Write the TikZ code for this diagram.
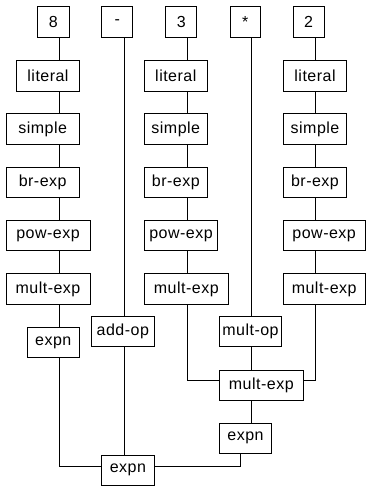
\documentclass[tikz,border=0pt]{standalone}
\usepackage{fontspec}
\setmainfont{Liberation Sans}[LetterSpace=3]
\tikzset{tnode/.style={draw, line width=1pt, minimum height=30.5pt, inner sep=1pt, font=\fontsize{16}{19}\selectfont}}

\begin{document}
\begin{tikzpicture}[x=1pt,y=-1pt,line width=1pt]
\useasboundingbox (0,0) rectangle (366,486);

\node[tnode, minimum width=31.3pt] (n8) at (53.35,22.2) {8};
\node[tnode, minimum width=62.6pt] (lit1) at (48,75.8) {literal};
\node[tnode, minimum width=73.3pt] (simp1) at (42.65,129.2) {simple};
\node[tnode, minimum width=73.3pt] (brx1) at (42.65,182.5) {br-exp};
\node[tnode, minimum width=84pt] (pow1) at (48,235.5) {pow-exp};
\node[tnode, minimum width=84pt] (mul1) at (48,289.2) {mult-exp};
\node[tnode, minimum width=52pt] (expn1) at (53.3,342.5) {expn};

\node[tnode, minimum width=31pt] (nminus) at (117.2,22.2) {-};
\node[tnode, minimum width=62.3pt] (addop) at (122.85,331.7) {add-op};

\node[tnode, minimum width=31pt] (n3) at (181.2,22.2) {3};
\node[tnode, minimum width=63pt] (lit3) at (175.8,75.8) {literal};
\node[tnode, minimum width=63pt] (simp3) at (175.8,129.2) {simple};
\node[tnode, minimum width=63pt] (brx3) at (175.8,182.5) {br-exp};
\node[tnode, minimum width=73.4pt] (pow3) at (181,235.5) {pow-exp};
\node[tnode, minimum width=84pt] (mul3) at (186.3,289.2) {mult-exp};

\node[tnode, minimum width=30.7pt] (nstar) at (245.35,22.2) {*};
\node[tnode, minimum width=62.4pt] (multop) at (250.5,331.7) {mult-op};
\node[tnode, minimum width=84pt] (mulc) at (261.3,385.3) {mult-exp};
\node[tnode, minimum width=52.4pt] (expnr) at (245.5,438.3) {expn};

\node[tnode, minimum width=30.7pt] (n2) at (308.65,22.2) {2};
\node[tnode, minimum width=63.4pt] (lit5) at (315,75.8) {literal};
\node[tnode, minimum width=63.4pt] (simp5) at (315,129.2) {simple};
\node[tnode, minimum width=63.4pt] (brx5) at (315,182.5) {br-exp};
\node[tnode, minimum width=81.7pt] (pow5) at (324.15,235.5) {pow-exp};
\node[tnode, minimum width=81.7pt] (mul5) at (324.15,289.2) {mult-exp};

\node[tnode, minimum width=52.3pt] (root) at (127.85,470.3) {expn};

\coordinate (c1) at (59.3,0);
\coordinate (c2) at (124,0);
\coordinate (c3) at (187.7,0);
\coordinate (c4) at (251,0);
\coordinate (c5) at (315,0);
\coordinate (cr) at (240.7,0);
\coordinate (ymid) at (0,380.7);
\coordinate (ylow) at (0,466);

\draw (n8.south -| c1) -- (lit1.north -| c1);
\draw (lit1.south -| c1) -- (simp1.north -| c1);
\draw (simp1.south -| c1) -- (brx1.north -| c1);
\draw (brx1.south -| c1) -- (pow1.north -| c1);
\draw (pow1.south -| c1) -- (mul1.north -| c1);
\draw (mul1.south -| c1) -- (expn1.north -| c1);
\draw (expn1.south -| c1) |- (root.west |- ylow);

\draw (nminus.south -| c2) -- (addop.north -| c2);
\draw (addop.south -| c2) -- (root.north -| c2);

\draw (n3.south -| c3) -- (lit3.north -| c3);
\draw (lit3.south -| c3) -- (simp3.north -| c3);
\draw (simp3.south -| c3) -- (brx3.north -| c3);
\draw (brx3.south -| c3) -- (pow3.north -| c3);
\draw (pow3.south -| c3) -- (mul3.north -| c3);
\draw (mul3.south -| c3) |- (mulc.west |- ymid);

\draw (nstar.south -| c4) -- (multop.north -| c4);
\draw (multop.south -| c4) -- (mulc.north -| c4);
\draw (mulc.south -| c4) -- (expnr.north -| c4);
\draw (expnr.south -| cr) |- (root.east |- ylow);

\draw (n2.south -| c5) -- (lit5.north -| c5);
\draw (lit5.south -| c5) -- (simp5.north -| c5);
\draw (simp5.south -| c5) -- (brx5.north -| c5);
\draw (brx5.south -| c5) -- (pow5.north -| c5);
\draw (pow5.south -| c5) -- (mul5.north -| c5);
\draw (mul5.south -| c5) |- (mulc.east |- ymid);
\end{tikzpicture}
\end{document}
